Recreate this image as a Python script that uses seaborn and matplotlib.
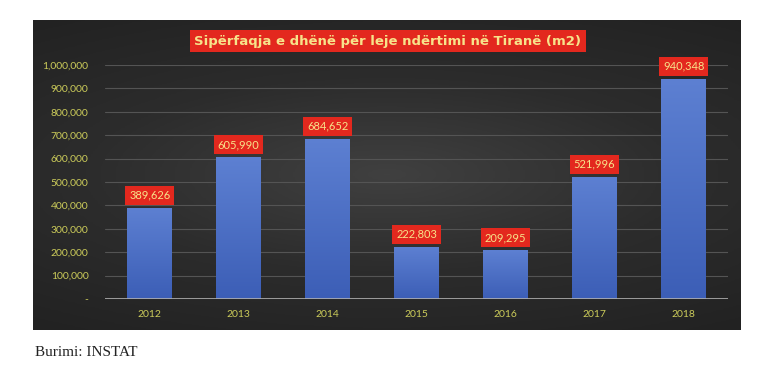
import numpy as np
import pandas as pd
import matplotlib
matplotlib.use("Agg")
import matplotlib.pyplot as plt
import seaborn as sns
from matplotlib.ticker import FuncFormatter

# te dhenat
years = ['2012', '2013', '2014', '2015', '2016', '2017', '2018']
areas = [389626, 605990, 684652, 222803, 209295, 521996, 940348]
title = 'Sipërfaqja e dhënë për leje ndërtimi në Tiranë (m2)'
source = 'Burimi: INSTAT'

sns.set_style("dark")
plt.rcParams['font.family'] = ['Lato', 'DejaVu Sans']

tick_color = '#cccc5a'
label_color = '#f7e38a'
red_box = '#e3281e'

fig = plt.figure(figsize=(7.68, 3.68), dpi=100)
fig.patch.set_facecolor('white')

# sfondi i errët me gradient
bg = fig.add_axes([0.043, 0.103, 0.921, 0.843])
yy, xx = np.mgrid[-1:1:200j, -1:1:400j]
r = np.sqrt((xx * 0.8) ** 2 + (yy * 1.1) ** 2)
bg.imshow(r, cmap=matplotlib.colors.LinearSegmentedColormap.from_list(
    'bg', ['#404040', '#2c2c2c', '#222222']), aspect='auto', extent=[0, 1, 0, 1])
bg.set_axis_off()

ax = fig.add_axes([0.137, 0.1875, 0.811, 0.636])
ax.patch.set_alpha(0)
df = pd.DataFrame({'year': years, 'area': areas})
sns.barplot(data=df, x='year', y='area', color='#4a6cc4', width=0.5,
            saturation=1, linewidth=0, ax=ax, zorder=3)

ax.set_ylim(0, 1000000)
ax.set_xlim(-0.5, len(years) - 0.5)

# gradient mbi shtyllat
bar_cmap = matplotlib.colors.LinearSegmentedColormap.from_list('bar', ['#3c5eb6', '#5d80d2'])
grad = np.linspace(0, 1, 256).reshape(-1, 1)
for p in ax.patches:
    x0, y0 = p.get_x(), p.get_y()
    w, h = p.get_width(), p.get_height()
    im = ax.imshow(grad, cmap=bar_cmap, origin='lower', aspect='auto',
                   extent=[x0, x0 + w, y0, y0 + h], zorder=3.5)
    im.set_clip_path(p)
ax.set_xlim(-0.5, len(years) - 0.5)
ax.set_ylim(0, 1000000)

ax.set_yticks(np.arange(0, 1000001, 100000))
ax.yaxis.set_major_formatter(FuncFormatter(lambda v, p: '-' if v == 0 else f'{v:,.0f}'))
ax.grid(axis='y', color='#545454', linewidth=0.8, zorder=0)
ax.grid(axis='x', visible=False)
ax.axhline(0, color='#b0b0b0', linewidth=1.2, zorder=4)
for s in ax.spines.values():
    s.set_visible(False)
ax.tick_params(axis='both', length=0, colors=tick_color, labelsize=7.5)
ax.tick_params(axis='x', pad=8)
ax.tick_params(axis='y', pad=12)
ax.set_xlabel('')
ax.set_ylabel('')

# etiketat e vlerave
for i, v in enumerate(areas):
    ax.text(i, v + 30000, f'{v:,}', ha='center', va='bottom', fontsize=8,
            color=label_color, zorder=5,
            bbox=dict(boxstyle='square,pad=0.35', facecolor=red_box, edgecolor='none'))

fig.text(0.505, 0.888, title, ha='center', va='center', fontsize=9.5,
         fontweight='bold', color=label_color, family='DejaVu Sans',
         bbox=dict(boxstyle='square,pad=0.35', facecolor=red_box, edgecolor='none'))

fig.text(0.046, 0.042, source, ha='left', va='center', fontsize=11,
         family='Liberation Serif', color='#222222')

fig.savefig('out.png', dpi=100)
